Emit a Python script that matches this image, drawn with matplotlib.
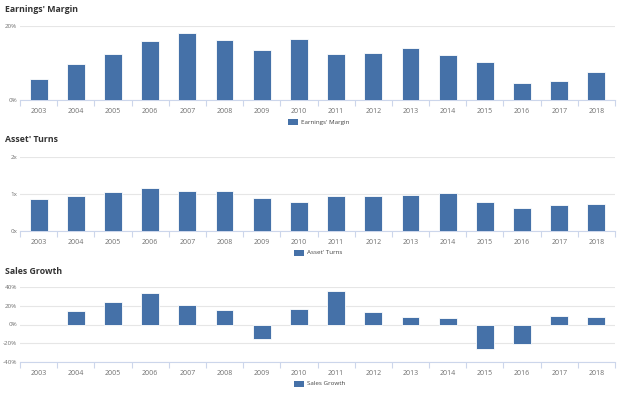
import numpy as np
import matplotlib
matplotlib.use('Agg')
from matplotlib import pyplot as plt
from matplotlib.patches import Rectangle

years = [str(y) for y in range(2003, 2019)]

earnings_margin = [5.6, 9.7, 12.4, 15.8, 17.9, 16.1, 13.5, 16.3,
                   12.4, 12.6, 14.0, 12.0, 10.2, 4.5, 5.0, 7.5]
asset_turns = [0.86, 0.94, 1.06, 1.16, 1.07, 1.07, 0.88, 0.78,
               0.94, 0.94, 0.98, 1.02, 0.78, 0.61, 0.70, 0.72]
sales_growth = [np.nan, 14.0, 23.9, 33.7, 20.7, 15.8, -16.1, 16.5,
                36.1, 13.7, 8.4, 7.0, -26.3, -21.1, 9.1, 7.7]

plt.rcParams['font.family'] = ['Open Sans', 'DejaVu Sans']

W, H = 624, 397
BAR = '#4571a8'
GRID = '#e6e6e6'
AXIS = '#ccd6eb'

fig = plt.figure(figsize=(W / 100, H / 100), dpi=100)

panels = [
    ("Earnings' Margin", earnings_margin, (0, 20), [0, 20], lambda v: f'{v:g}%', 25.5, 100, 10),
    ("Asset' Turns", asset_turns, (0, 2), [0, 1, 2], lambda v: f'{v:g}x', 156.7, 231, 140),
    ('Sales Growth', sales_growth, (-40, 40), [-40, -20, 0, 20, 40], lambda v: f'{v:g}%', 287.3, 361.7, 271),
]

left, right = 20, 615
x = np.arange(len(years))

for title, vals, ylim, yticks, fmt, top, bottom, ty in panels:
    ax = fig.add_axes([left / W, 1 - bottom / H, (right - left) / W, (bottom - top) / H])
    ax.bar(x, vals, width=0.48, color=BAR, edgecolor='white', linewidth=0.6, zorder=3)
    ax.set_xlim(-0.5, len(years) - 0.5)
    ax.set_ylim(*ylim)
    ax.set_yticks(yticks)
    ax.set_yticklabels([fmt(v) for v in yticks])
    ax.set_xticks(x)
    ax.set_xticklabels(years)
    ax.set_xticks(np.arange(-0.5, len(years)), minor=True)
    for s in ['top', 'right', 'left']:
        ax.spines[s].set_visible(False)
    ax.spines['bottom'].set_color(AXIS)
    ax.spines['bottom'].set_linewidth(0.8)
    ax.grid(axis='y', color=GRID, linewidth=0.8, zorder=0)
    ax.tick_params(axis='x', which='major', length=0, pad=6, labelsize=5, labelcolor='#707070')
    ax.tick_params(axis='x', which='minor', length=4, color=AXIS, width=0.8)
    ax.tick_params(axis='y', length=0, pad=2, labelsize=4.5, labelcolor='#707070')

    fig.text(5 / W, 1 - ty / H, title, fontsize=6.3, fontweight='bold',
             color='#333333', va='center', ha='left')

    # legend
    ly = bottom + 22
    tw = len(title) * 2.9
    lx = (left + right) / 2 - (tw + 12) / 2
    fig.patches.append(Rectangle((lx / W, 1 - (ly + 3) / H), 10 / W, 6 / H,
                                 transform=fig.transFigure, facecolor=BAR,
                                 edgecolor='none'))
    fig.text((lx + 13) / W, 1 - ly / H, title, fontsize=4.5, color='#444444',
             va='center', ha='left')

fig.savefig('out.png', dpi=100)
